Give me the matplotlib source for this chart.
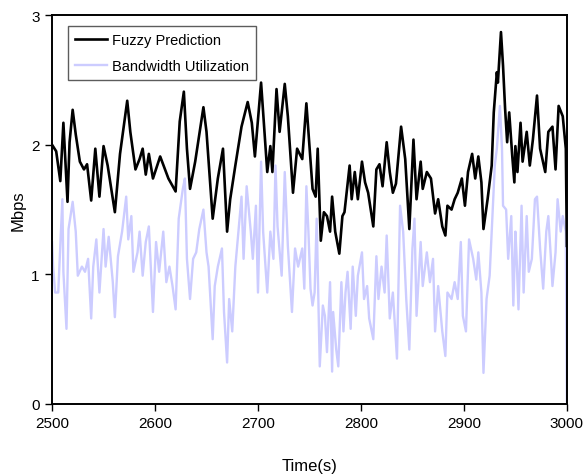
import matplotlib
matplotlib.use("Agg")
import matplotlib.pyplot as plt

plt.rcParams['font.family'] = ['Liberation Sans', 'DejaVu Sans']

# Fuzzy Prediction
fuzzy_t = [2500, 2504, 2508, 2511, 2515, 2517, 2520, 2523, 2527, 2531, 2534, 2538, 2542, 2546, 2550,
           2554, 2561, 2566, 2573, 2576, 2581, 2585, 2588, 2591, 2594, 2598, 2605, 2613, 2620, 2624,
           2628, 2631, 2634, 2639, 2647, 2650, 2656, 2661, 2666, 2670, 2673, 2678, 2684, 2690, 2694,
           2697, 2703, 2707, 2709, 2712, 2714, 2718, 2721, 2726, 2729, 2734, 2738, 2743, 2747, 2749,
           2753, 2756, 2758, 2761, 2764, 2767, 2770, 2772, 2775, 2779, 2782, 2784, 2789, 2791, 2794,
           2797, 2801, 2804, 2807, 2812, 2815, 2818, 2821, 2825, 2828, 2831, 2834, 2839, 2843, 2847,
           2851, 2854, 2858, 2860, 2864, 2868, 2872, 2875, 2879, 2882, 2884, 2888, 2891, 2894, 2898,
           2901, 2904, 2908, 2911, 2914, 2917, 2919, 2923, 2927, 2929, 2932, 2933, 2936, 2938, 2940,
           2942, 2944, 2947, 2949, 2950, 2952, 2955, 2957, 2961, 2964, 2967, 2971, 2974, 2979, 2982,
           2986, 2989, 2992, 2996, 2999, 3000]
fuzzy_v = [2.00, 1.95, 1.72, 2.17, 1.56, 2.02, 2.27, 2.08, 1.87, 1.81, 1.85, 1.57, 1.97, 1.60, 1.99,
           1.84, 1.48, 1.93, 2.34, 2.10, 1.81, 1.89, 1.97, 1.77, 1.93, 1.74, 1.91, 1.74, 1.64, 2.18,
           2.41, 1.97, 1.66, 1.87, 2.29, 2.10, 1.43, 1.74, 1.97, 1.33, 1.58, 1.84, 2.14, 2.33, 2.17,
           1.91, 2.48, 2.02, 1.79, 1.99, 1.79, 2.43, 2.10, 2.47, 2.22, 1.63, 1.97, 1.89, 2.32, 2.10,
           1.66, 1.60, 1.97, 1.26, 1.48, 1.45, 1.33, 1.60, 1.33, 1.16, 1.45, 1.48, 1.84, 1.58, 1.79,
           1.58, 1.87, 1.71, 1.63, 1.37, 1.81, 1.85, 1.68, 2.02, 1.79, 1.63, 1.70, 2.14, 1.89, 1.35,
           2.04, 1.58, 1.87, 1.66, 1.79, 1.74, 1.47, 1.58, 1.37, 1.30, 1.53, 1.50, 1.58, 1.63, 1.74,
           1.53, 1.79, 1.93, 1.74, 1.91, 1.71, 1.35, 1.58, 1.84, 2.25, 2.56, 2.48, 2.87, 2.61, 2.28,
           2.02, 2.25, 1.91, 1.71, 1.99, 1.79, 2.17, 1.87, 2.10, 1.84, 2.04, 2.38, 1.97, 1.79, 2.10,
           2.14, 1.81, 2.30, 2.22, 1.97, 1.22]

# Bandwidth Utilization
bw_t = [2500, 2501, 2503, 2506, 2510, 2511, 2514, 2516, 2520, 2523, 2525, 2529, 2532, 2535, 2538,
        2540, 2543, 2546, 2550, 2552, 2555, 2559, 2561, 2564, 2568, 2572, 2574, 2577, 2579, 2583,
        2585, 2588, 2591, 2594, 2598, 2601, 2604, 2608, 2611, 2614, 2617, 2620, 2623, 2627, 2629,
        2631, 2634, 2637, 2640, 2643, 2647, 2650, 2652, 2656, 2658, 2661, 2665, 2667, 2670, 2672,
        2675, 2678, 2681, 2684, 2686, 2689, 2693, 2695, 2698, 2700, 2703, 2705, 2709, 2712, 2715,
        2717, 2719, 2723, 2726, 2729, 2733, 2736, 2739, 2743, 2745, 2747, 2749, 2751, 2753, 2755,
        2757, 2760, 2763, 2765, 2767, 2770, 2772, 2773, 2776, 2778, 2781, 2783, 2785, 2787, 2790,
        2792, 2795, 2797, 2801, 2803, 2806, 2808, 2812, 2815, 2817, 2820, 2823, 2825, 2828, 2831,
        2835, 2838, 2841, 2844, 2847, 2850, 2852, 2854, 2858, 2860, 2864, 2867, 2870, 2872, 2875,
        2879, 2882, 2884, 2888, 2891, 2894, 2897, 2899, 2902, 2905, 2909, 2912, 2914, 2917, 2919,
        2922, 2925, 2927, 2930, 2932, 2935, 2937, 2938, 2941, 2943, 2946, 2948, 2950, 2951, 2953,
        2956, 2958, 2961, 2963, 2966, 2969, 2971, 2974, 2977, 2980, 2982, 2985, 2986, 2989, 2991,
        2994, 2996, 2999, 3000]
bw_v = [1.25, 1.06, 0.86, 0.86, 1.58, 1.02, 0.58, 1.35, 1.56, 1.33, 0.99, 1.06, 1.02, 1.12, 0.66,
        1.06, 1.27, 0.86, 1.35, 1.06, 1.29, 0.94, 0.67, 1.14, 1.33, 1.60, 1.27, 1.45, 1.02, 1.17,
        1.33, 0.99, 1.25, 1.37, 0.71, 1.25, 1.02, 1.33, 0.94, 1.06, 0.91, 0.73, 1.43, 1.66, 1.74,
        1.12, 0.81, 1.12, 1.17, 1.35, 1.50, 1.17, 1.06, 0.50, 0.91, 1.06, 1.20, 0.71, 0.32, 0.81,
        0.56, 1.06, 1.33, 1.60, 1.12, 1.68, 1.33, 1.12, 1.53, 0.86, 1.87, 1.33, 0.86, 1.33, 1.12,
        1.84, 1.37, 0.99, 1.79, 1.22, 0.71, 1.20, 1.06, 1.20, 0.89, 1.68, 1.33, 0.89, 0.76, 0.86,
        1.43, 0.29, 0.76, 0.68, 0.40, 0.94, 0.25, 0.71, 0.42, 0.29, 0.94, 0.56, 0.86, 1.02, 0.58,
        1.06, 0.68, 0.99, 1.17, 0.81, 0.91, 0.66, 0.50, 1.14, 0.81, 1.06, 0.86, 1.30, 0.66, 0.86,
        0.35, 1.53, 1.33, 0.81, 0.42, 1.20, 1.43, 0.68, 1.25, 0.91, 1.17, 0.94, 1.12, 0.56, 0.91,
        0.56, 0.37, 0.86, 0.81, 0.94, 0.81, 1.25, 0.68, 0.56, 1.27, 1.12, 0.96, 1.17, 0.86, 0.24,
        0.81, 0.99, 1.33, 1.84, 1.97, 2.30, 1.97, 1.53, 1.50, 1.12, 1.45, 0.76, 1.33, 1.17, 0.73,
        1.53, 0.86, 1.45, 1.02, 1.12, 1.58, 1.60, 1.20, 0.89, 1.33, 1.45, 1.06, 0.91, 1.17, 1.58,
        1.33, 1.45, 1.33, 0.02]

x_ticks = [2500, 2600, 2700, 2800, 2900, 3000]
y_ticks = [0, 1, 2, 3]

fig = plt.figure(figsize=(5.85, 4.77), dpi=100)
ax = fig.add_axes([0.089, 0.151, 0.880, 0.815])

ax.plot(fuzzy_t, fuzzy_v, color='black', lw=1.9, label='Fuzzy Prediction', zorder=3)
ax.plot(bw_t, bw_v, color='#CCCCFF', lw=1.7, label='Bandwidth Utilization', zorder=2)

ax.set_xlim(2500, 3000)
ax.set_ylim(0, 3)
ax.set_xticks(x_ticks)
ax.set_yticks(y_ticks)
ax.tick_params(direction='out', length=5, width=1, labelsize=11, pad=4)
for s in ax.spines.values():
    s.set_linewidth(1.4)

ax.set_xlabel('Time(s)', fontsize=12, labelpad=20)
ax.set_ylabel('Mbps', fontsize=12, labelpad=4)

leg = ax.legend(loc='upper left', bbox_to_anchor=(0.03, 0.972), fontsize=10.5, frameon=True,
                fancybox=False, edgecolor='#333333', handlelength=2.2, borderpad=0.5,
                labelspacing=0.8, handletextpad=0.35, borderaxespad=0)
leg.get_frame().set_linewidth(1.0)

fig.savefig('out.png', dpi=100)
